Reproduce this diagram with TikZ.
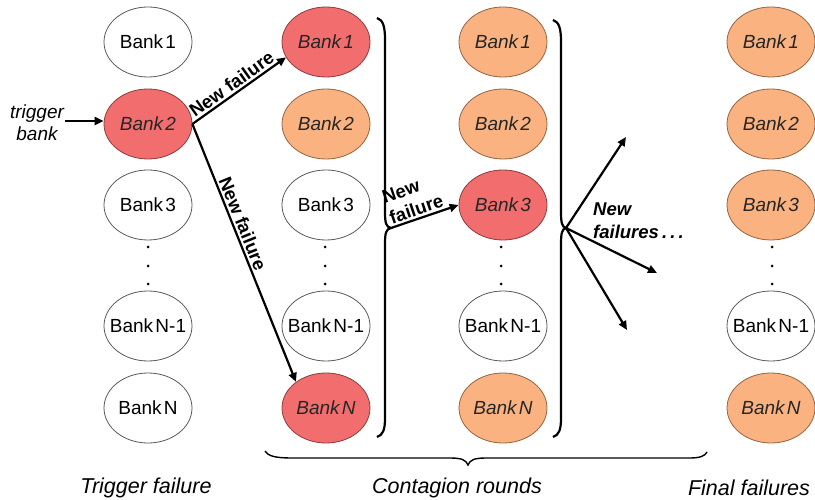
\documentclass[tikz,border=0pt]{standalone}
\usepackage{fontspec}
\setmainfont{Liberation Sans}
\usetikzlibrary{arrows.meta,shapes.geometric}

\definecolor{failred}{RGB}{242,110,110}
\definecolor{failredline}{RGB}{140,60,60}
\definecolor{failorange}{RGB}{249,178,128}
\definecolor{failorangeline}{RGB}{150,100,65}
\definecolor{bankline}{RGB}{90,90,90}

\newcommand{\bk}[1]{Bank\hspace{0.12em}#1}

\tikzset{
  bank/.style={ellipse, draw=bankline, line width=0.8pt, fill=white,
    minimum width=88pt, minimum height=70pt, inner xsep=-10pt, inner ysep=0pt,
    font=\fontsize{19}{22}\selectfont, text=black},
  newfail/.style={bank, fill=failred, draw=failredline, font=\fontsize{19}{22}\selectfont\itshape, text=black!85},
  oldfail/.style={bank, fill=failorange, draw=failorangeline, font=\fontsize{19}{22}\selectfont\itshape, text=black!85},
  dot/.style={circle, fill=black, minimum size=3pt, inner sep=0pt},
  flow/.style={line width=2.2pt, -{Triangle[length=9pt,width=8pt]}},
  brace/.style={line width=2.2pt},
  flowlabel/.style={font=\fontsize{18.5}{22}\selectfont\bfseries, inner sep=2pt},
  caption/.style={font=\fontsize{21.5}{24}\selectfont\itshape}
}

\begin{document}
\begin{tikzpicture}[x=1pt,y=-1pt]
\useasboundingbox (0,0) rectangle (815,500);

% column 1: trigger failure
\node[bank]    (a1) at (148,42)  {\bk{1}};
\node[newfail] (a2) at (148,124) {\bk{2}};
\node[bank]    (a3) at (148,205) {\bk{3}};
\node[bank]    (a4) at (148,326) {\bk{N-1}};
\node[bank]    (a5) at (148,408) {\bk{N}};
\node[dot] (ad1) at (148,247) {};
\node[dot] (ad2) at (148,266) {};
\node[dot] (ad3) at (148,284) {};

% column 2: first contagion round
\node[newfail] (b1) at (326,42)  {\bk{1}};
\node[oldfail] (b2) at (326,124) {\bk{2}};
\node[bank]    (b3) at (326,205) {\bk{3}};
\node[bank]    (b4) at (326,326) {\bk{N-1}};
\node[newfail] (b5) at (326,408) {\bk{N}};
\node[dot] (bd1) at (325,247) {};
\node[dot] (bd2) at (325,266) {};
\node[dot] (bd3) at (325,284) {};

% column 3: second contagion round
\node[oldfail] (c1) at (503,42)  {\bk{1}};
\node[oldfail] (c2) at (503,124) {\bk{2}};
\node[newfail] (c3) at (503,205) {\bk{3}};
\node[bank]    (c4) at (503,326) {\bk{N-1}};
\node[oldfail] (c5) at (503,408) {\bk{N}};
\node[dot] (cd1) at (501,247) {};
\node[dot] (cd2) at (501,266) {};
\node[dot] (cd3) at (501,284) {};

% column 4: final failures
\node[oldfail] (d1) at (771,42)  {\bk{1}};
\node[oldfail] (d2) at (771,124) {\bk{2}};
\node[oldfail] (d3) at (771,205) {\bk{3}};
\node[bank]    (d4) at (771,326) {\bk{N-1}};
\node[oldfail] (d5) at (771,408) {\bk{N}};
\node[dot] (dd1) at (772,247) {};
\node[dot] (dd2) at (772,266) {};
\node[dot] (dd3) at (772,284) {};

% trigger
\node[font=\fontsize{19}{22}\selectfont\itshape, align=center, inner sep=1pt] (trig) at (37,123) {trigger\\bank};
\draw[flow] (trig.east) ++(0,-2) coordinate (trigout) -- (a2.west |- trigout);

% first round of failures
\draw[flow] (a2.east) -- node[flowlabel, sloped, above, pos=.48] {New failure} (b1.201);
\draw[flow] (a2.east) -- node[flowlabel, sloped, above, pos=.4] {New failure} (b5.139);

% braces after columns 2 and 3
\coordinate (tipA) at (391,228);
\draw[brace] (377,18) .. controls (383,20) and (385,26) .. (385,40) -- (385,212)
  .. controls (385,223) and (386,227) .. (tipA)
  .. controls (386,229) and (385,233) .. (385,244) -- (385,418)
  .. controls (385,430) and (383,435) .. (377,437);
\coordinate (tipB) at (566,228);
\draw[brace] (553,20) .. controls (559,22) and (561,28) .. (561,42) -- (561,212)
  .. controls (561,223) and (562,227) .. (tipB)
  .. controls (562,229) and (561,233) .. (561,244) -- (561,418)
  .. controls (561,430) and (559,435) .. (553,437);

% second round
\draw[flow] (tipA) -- node[flowlabel, sloped, above, align=left, pos=.42] {New\\failure} (c3.west);

% further rounds
\coordinate (fa) at (626,137);
\coordinate (fb) at (657,273);
\coordinate (fc) at (627,330);
\draw[flow] (tipB) -- (fa);
\draw[flow] (tipB) -- (fb);
\draw[flow] (tipB) -- (fc);
\node[font=\fontsize{18.5}{23}\selectfont\bfseries\itshape, align=left, anchor=north west, inner sep=0pt] (more) at (593,203) {New\\failures\,.\,.\,.};

% brace under the contagion rounds
\draw[line width=1.4pt] (265,451) .. controls (268,456) and (275,458) .. (292,458) -- (450,458)
  .. controls (462,458) and (466,460) .. (468,465)
  .. controls (470,460) and (474,458) .. (486,458) -- (690,458)
  .. controls (700,458) and (705,456) .. (707,452);

% captions
\node[caption] (capA) at (146,488) {Trigger failure};
\node[caption] (capB) at (457,488) {Contagion rounds};
\node[caption] (capC) at (749,488) {Final failures};
\end{tikzpicture}
\end{document}
